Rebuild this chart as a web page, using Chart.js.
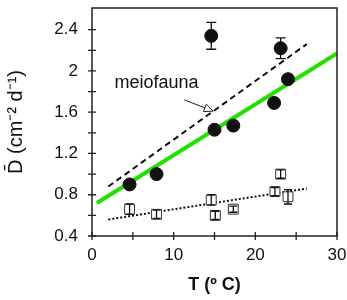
<!DOCTYPE html>
<html>
<head>
<meta charset="utf-8">
<script src="https://cdn.jsdelivr.net/npm/chart.js@4.4.0/dist/chart.umd.min.js"></script>
<style>
  body { margin:0; background:#fff; }
  #wrap { width:347px; height:300px; }
</style>
</head>
<body>
<div id="wrap"><canvas id="chart" width="347" height="300"></canvas></div>
<script>
// filled circles (meiofauna)
var meioT  = [4.6, 7.9, 14.6, 15.0, 17.3, 22.3, 23.1, 24.0];
var meioD  = [0.90, 1.00, 2.34, 1.43, 1.47, 1.69, 2.22, 1.92];
var meioErr = [0, 0, 0.13, 0, 0, 0, 0.10, 0];

// open squares
var otherT = [4.6, 7.9, 14.6, 15.1, 17.3, 22.4, 23.1, 24.0];
var otherD = [0.66, 0.61, 0.75, 0.60, 0.66, 0.83, 1.00, 0.78];
var otherErr = [0.05, 0.04, 0.05, 0.04, 0.03, 0.04, 0.04, 0.07];

// fit lines, end points
var greenLineT = [0.6, 30];
var greenLineD = [0.72, 2.17];
var dashLineT = [2.0, 26.3];
var dashLineD = [0.88, 2.26];
var dotLineT = [2.0, 26.3];
var dotLineD = [0.56, 0.86];

var xTickLabels = [0, 10, 20, 30];
var yTickLabels = [0.4, 0.8, 1.2, 1.6, 2, 2.4];

function pts(xs, ys) {
  var out = [];
  for (var i = 0; i < xs.length; i++) out.push({x: xs[i], y: ys[i]});
  return out;
}

var FONT = "'Liberation Sans', Arial, sans-serif";

var errorBars = {
  id: 'errorBars',
  afterDatasetsDraw: function(chart) {
    var ctx = chart.ctx;
    var xs = chart.scales.x, ys = chart.scales.y;
    var sets = [[meioT, meioD, meioErr, 5], [otherT, otherD, otherErr, 4]];
    ctx.save();
    ctx.strokeStyle = '#111';
    ctx.lineWidth = 1.3;
    sets.forEach(function(s) {
      for (var i = 0; i < s[0].length; i++) {
        if (!s[2][i]) continue;
        var px = xs.getPixelForValue(s[0][i]);
        var y1 = ys.getPixelForValue(s[1][i] - s[2][i]);
        var y2 = ys.getPixelForValue(s[1][i] + s[2][i]);
        ctx.beginPath();
        ctx.moveTo(px, y1); ctx.lineTo(px, y2);
        ctx.moveTo(px - s[3], y1); ctx.lineTo(px + s[3], y1);
        ctx.moveTo(px - s[3], y2); ctx.lineTo(px + s[3], y2);
        ctx.stroke();
      }
    });
    ctx.restore();
  }
};

var frame = {
  id: 'frame',
  afterDraw: function(chart) {
    var ctx = chart.ctx, a = chart.chartArea;
    var xs = chart.scales.x, ys = chart.scales.y;
    ctx.save();
    ctx.strokeStyle = '#222';
    ctx.lineWidth = 1.5;
    ctx.strokeRect(a.left, a.top, a.right - a.left, a.bottom - a.top);
    // ticks crossing the axes
    ctx.lineWidth = 1.3;
    ctx.beginPath();
    for (var t = 0; t <= 30; t += 5) {
      var px = xs.getPixelForValue(t);
      ctx.moveTo(px, a.bottom - 4); ctx.lineTo(px, a.bottom + 4);
    }
    for (var v = 4; v <= 24; v += 2) {
      var py = ys.getPixelForValue(v / 10);
      ctx.moveTo(a.left - 4, py); ctx.lineTo(a.left + 4, py);
    }
    ctx.stroke();
    // label and arrow
    ctx.fillStyle = '#111';
    ctx.font = '18px ' + FONT;
    ctx.textAlign = 'center';
    ctx.textBaseline = 'middle';
    ctx.fillText('meiofauna', xs.getPixelForValue(7.9), ys.getPixelForValue(1.88));
    var x1 = xs.getPixelForValue(11.3), y1 = ys.getPixelForValue(1.72);
    var x2 = xs.getPixelForValue(14.85), y2 = ys.getPixelForValue(1.61);
    var ang = Math.atan2(y2 - y1, x2 - x1);
    var hx = x2 - 9 * Math.cos(ang), hy = y2 - 9 * Math.sin(ang);
    ctx.lineWidth = 1;
    ctx.beginPath();
    ctx.moveTo(x1, y1); ctx.lineTo(hx, hy);
    ctx.stroke();
    ctx.beginPath();
    ctx.moveTo(x2, y2);
    ctx.lineTo(hx + 4 * Math.sin(ang), hy - 4 * Math.cos(ang));
    ctx.lineTo(hx - 4 * Math.sin(ang), hy + 4 * Math.cos(ang));
    ctx.closePath();
    ctx.fillStyle = '#fff';
    ctx.fill();
    ctx.stroke();
    ctx.restore();
  }
};

new Chart(document.getElementById('chart'), {
  type: 'scatter',
  data: {
    datasets: [
      { type: 'line', data: pts(greenLineT, greenLineD), borderColor: '#22e000', borderWidth: 4,
        pointRadius: 0, fill: false, order: 3 },
      { type: 'line', data: pts(dashLineT, dashLineD), borderColor: '#111', borderWidth: 2,
        borderDash: [6, 4], pointRadius: 0, fill: false, order: 4 },
      { type: 'line', data: pts(dotLineT, dotLineD), borderColor: '#111', borderWidth: 2,
        borderDash: [2, 2], pointRadius: 0, fill: false, order: 4 },
      { data: pts(meioT, meioD), pointStyle: 'circle', pointRadius: 6.5,
        backgroundColor: '#111', borderColor: '#111', order: 1 },
      { data: pts(otherT, otherD), pointStyle: 'rect', pointRadius: 7,
        backgroundColor: '#fff', borderColor: '#333', borderWidth: 1, order: 2 }
    ]
  },
  options: {
    responsive: false,
    animation: false,
    layout: { padding: { top: 7, right: 10, left: 0, bottom: 0 } },
    plugins: { legend: { display: false }, tooltip: { enabled: false } },
    scales: {
      x: {
        type: 'linear', min: 0, max: 30,
        afterBuildTicks: function(s) { s.ticks = xTickLabels.map(function(v) { return {value: v}; }); },
        afterFit: function(s) { s.height = 64; s.paddingLeft = 0; s.paddingRight = 0; },
        grid: { display: false },
        border: { display: false },
        ticks: { color: '#111', font: { size: 17, family: FONT }, padding: 1, maxRotation: 0 },
        title: { display: true, text: 'T (\u00ba C)', color: '#111',
                 font: { size: 18, weight: 'bold', family: FONT }, padding: { top: 6 } }
      },
      y: {
        type: 'linear', min: 0.4, max: 2.61,
        afterBuildTicks: function(s) { s.ticks = yTickLabels.map(function(v) { return {value: v}; }); },
        afterFit: function(s) { s.width = 92; s.paddingTop = 0; s.paddingBottom = 0; },
        grid: { display: false },
        border: { display: false },
        ticks: { color: '#111', font: { size: 17, family: FONT }, padding: 6,
                 callback: function(v) { return String(v); } },
        title: { display: true, text: 'D\u0304 (cm\u207b\u00b2 d\u207b\u00b9)', color: '#111',
                 font: { size: 20, family: FONT }, padding: { bottom: 0 } }
      }
    }
  },
  plugins: [errorBars, frame]
});
</script>
</body>
</html>
